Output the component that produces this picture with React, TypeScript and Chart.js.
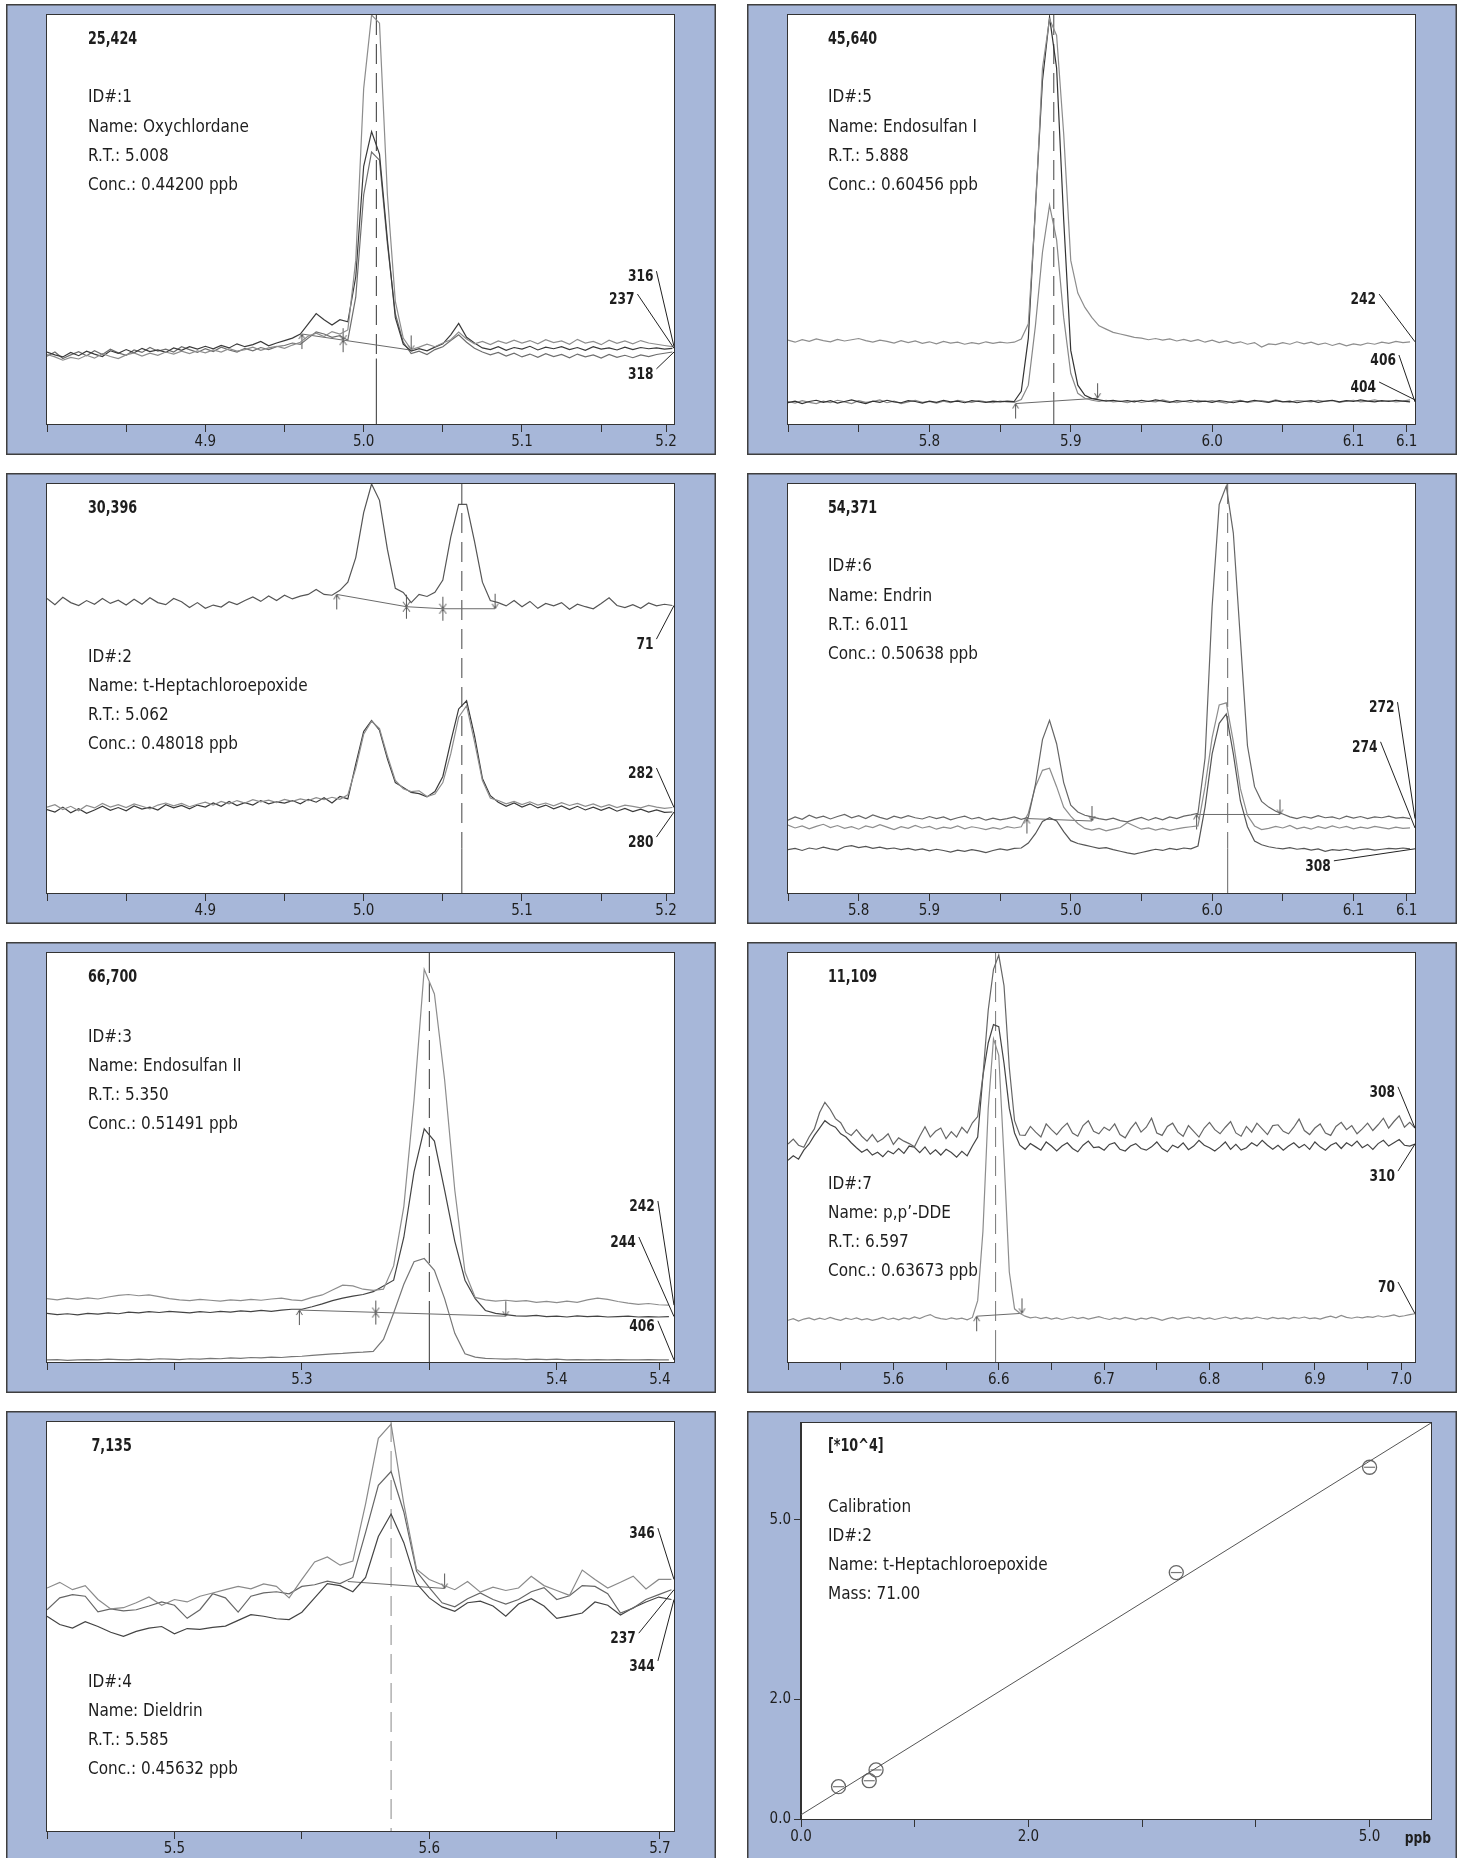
import React, { useEffect, useRef } from "react";
import { Chart, registerables } from "chart.js";

Chart.register(...registerables);

const FAMILY = '"DejaVu Sans Condensed", "Liberation Sans Narrow", "DejaVu Sans", sans-serif';
const FRAME_BLUE = "#a7b7d9";
const INK = "#1e1e1e";
const PANEL_W = 710;
const PANEL_H = 451;

// ---------- ID 1: Oxychlordane (m/z 316, 237, 318) ----------
const oxyRT = 5.008;
const oxyTicks = [4.8, 4.85, 4.9, 4.95, 5.0, 5.05, 5.1, 5.15, 5.191];
const oxyTickLabels = ["", "", "4.9", "", "5.0", "", "5.1", "", "5.2"];
const oxyIon316 = [
  17.0, 16.4, 15.6, 16.3, 15.9, 16.8, 16.1, 17.2, 16.5, 16.0,
  16.9, 17.4, 16.6, 17.3, 16.8, 17.6, 17.1, 17.8, 17.2, 17.9,
  17.4, 18.1, 17.6, 18.4, 17.8, 18.2, 18.8, 18.0, 18.6, 19.0,
  18.5, 19.3, 20.0, 21.5, 22.2, 21.4, 22.6, 22.0, 23.0, 40.0,
  82.0, 100.0, 98.0, 56.0, 30.0, 21.0, 18.2, 18.8, 19.5, 18.9,
  19.8, 20.6, 22.5, 20.8, 19.6, 20.2, 19.4, 20.3, 19.7, 20.5,
  19.8, 20.4, 19.6, 20.6, 19.9, 20.3, 19.5, 20.7, 19.8, 20.2,
  19.4, 20.5, 19.7, 20.3, 19.6, 20.4, 19.8, 19.5, 19.2, 18.9,
];
const oxyIon237 = [
  17.6, 16.9, 16.4, 17.5, 16.7, 17.8, 17.1, 16.5, 17.9, 17.3,
  18.2, 17.4, 18.5, 17.7, 18.1, 17.5, 18.6, 18.0, 18.9, 18.3,
  19.0, 18.4, 19.2, 18.6, 19.6, 18.9, 19.4, 20.2, 19.1, 19.8,
  20.4, 21.0, 22.0, 24.5, 27.0, 25.5, 24.2, 25.5, 25.0, 36.0,
  63.0, 71.5, 66.0, 45.0, 26.0, 19.5, 17.8, 18.4, 17.9, 18.8,
  19.6, 21.8, 24.6, 21.2, 19.8, 18.6, 18.2, 18.9, 18.0, 18.7,
  18.3, 19.0, 18.1, 18.8, 18.4, 18.9, 18.2, 18.7, 18.0, 18.9,
  18.3, 18.6, 18.1, 18.8, 18.2, 18.7, 18.4, 18.6, 18.3, 18.5,
];
const oxyIon318 = [
  16.6, 17.6, 16.0, 16.9, 17.7, 16.7, 17.9, 17.0, 18.3, 17.4,
  16.8, 18.1, 17.5, 18.7, 17.8, 18.3, 17.6, 18.9, 18.2, 17.5,
  18.4, 17.7, 18.8, 18.1, 17.6, 18.5, 17.9, 18.7, 18.2, 18.9,
  19.2, 19.8, 19.5, 21.0, 22.5, 22.0, 21.2, 21.6, 20.5, 31.0,
  56.0, 66.5, 64.5, 44.0, 27.0, 20.0, 17.2, 17.8, 17.0, 18.2,
  18.9, 20.4, 21.8, 20.0, 18.5, 17.6, 16.9, 17.5, 16.6, 17.3,
  16.4, 17.1, 16.3, 17.2, 16.5, 17.0, 16.2, 17.1, 16.4, 16.9,
  16.1, 17.0, 16.3, 16.8, 16.2, 16.9, 16.5, 17.0, 17.3, 17.6,
];
const oxyBaseX = [[4.961, 5.031]];
const oxyBaseY = [[22.0, 18.0]];
const oxyMarkX = [4.961, 4.987, 5.030];
const oxyMarkY = [22.0, 20.5, 18.0];
const oxyMarkKind = ["up", "cross", "down"];
const oxyMasses = ["316", "237", "318"];

// ---------- ID 2: t-Heptachloroepoxide (m/z 71, 282, 280) ----------
const heptRT = 5.062;
const heptTicks = oxyTicks;
const heptTickLabels = oxyTickLabels;
const heptIon71 = [
  72.0, 70.5, 72.3, 71.0, 70.3, 71.5, 70.6, 72.0, 70.8, 71.6,
  70.4, 71.8, 70.6, 72.2, 71.0, 70.5, 72.0, 71.2, 69.8, 71.0,
  69.6, 70.4, 69.9, 71.2, 70.5, 71.5, 72.4, 71.3, 72.6, 71.5,
  72.8, 71.9, 72.6, 73.0, 74.2, 73.0, 72.8, 74.0, 76.0, 82.0,
  93.0, 100.0, 96.0, 84.0, 74.5, 73.5, 71.0, 73.0, 72.5, 73.5,
  76.5, 87.0, 95.0, 95.0, 86.0, 76.0, 71.5, 71.0, 70.2, 71.5,
  70.0, 71.3, 69.6, 70.8, 70.2, 71.0, 69.4, 70.6, 70.0, 69.5,
  70.8, 72.2, 70.3, 69.8, 70.5, 69.6, 70.9, 70.2, 70.6, 70.3,
];
const heptIon282 = [
  21.0, 21.6, 20.4, 21.2, 20.1, 21.4, 20.8, 21.9, 21.0, 21.6,
  20.9, 21.8, 21.2, 20.6, 21.5, 22.0, 21.3, 21.9, 21.1, 21.7,
  22.2, 21.5, 22.4, 21.8, 22.6, 22.0, 22.8, 22.3, 22.7, 22.1,
  22.9, 22.4, 23.0, 22.6, 23.3, 22.8, 23.4, 22.9, 24.0, 30.5,
  38.8, 42.0, 40.2, 33.5, 27.5, 25.5, 24.8, 25.0, 23.6, 24.2,
  27.0, 34.0, 43.0, 45.8, 37.0, 27.5, 23.2, 22.6, 21.8, 22.4,
  21.6, 22.3, 21.5, 22.0, 21.3, 22.1, 21.4, 21.9, 21.2, 21.8,
  21.0, 21.6, 20.9, 21.5, 21.2, 20.8, 21.4, 21.0, 20.7, 20.9,
];
const heptIon280 = [
  20.4, 19.8, 21.0, 19.6, 20.6, 19.5, 20.3, 21.2, 20.2, 20.9,
  20.1, 21.3, 20.5, 21.0, 20.3, 21.6, 20.8, 21.4, 20.6, 21.5,
  21.0, 22.0, 21.2, 22.4, 21.4, 22.1, 21.5, 22.6, 21.8, 22.3,
  22.0, 22.6, 21.8, 22.9, 22.2, 23.3, 22.0, 23.6, 23.0, 31.5,
  39.5, 42.2, 39.8, 32.8, 27.0, 25.8, 24.6, 24.3, 23.5, 24.8,
  28.5, 37.0, 45.0, 47.0, 38.5, 28.0, 23.8, 22.2, 21.2, 22.0,
  21.0, 21.8, 20.8, 21.5, 20.6, 21.3, 20.4, 21.2, 20.3, 21.0,
  20.2, 20.9, 20.0, 20.7, 19.9, 20.5, 19.8, 20.3, 19.7, 19.8,
];
const heptBaseX = [[4.983, 5.027, 5.05, 5.083]];
const heptBaseY = [[73.0, 70.0, 69.5, 69.5]];
const heptMarkX = [4.983, 5.027, 5.05, 5.083];
const heptMarkY = [73.0, 70.0, 69.5, 69.5];
const heptMarkKind = ["up", "cross", "cross", "down"];
const heptMasses = ["71", "282", "280"];

// ---------- ID 3: Endosulfan II (m/z 242, 244, 406) ----------
const endo2RT = 5.35;
const endo2Ticks = [5.2, 5.25, 5.3, 5.35, 5.4, 5.4405];
const endo2TickLabels = ["", "", "5.3", "", "5.4", "5.4"];
const endo2Ion242 = [
  15.5, 15.2, 15.6, 15.3, 15.7, 15.4, 15.9, 16.3, 16.5, 16.2,
  16.4, 16.0, 15.5, 15.2, 15.0, 15.3, 15.1, 14.9, 15.2, 15.0,
  15.3, 15.1, 15.4, 15.6, 15.2, 15.0, 15.8, 16.4, 17.6, 18.8,
  18.6, 17.8, 17.5, 17.8, 23.5, 38.0, 64.0, 96.0, 90.0, 69.0,
  42.0, 22.0, 15.8, 15.2, 14.9, 15.1, 14.8, 15.0, 14.6, 14.8,
  14.5, 14.9, 14.6, 15.2, 15.6, 15.3, 14.8, 14.4, 14.1, 14.3,
  14.0, 13.9,
];
const endo2Ion244 = [
  11.9, 11.6, 11.8, 11.5, 11.9, 11.7, 12.0, 11.8, 12.2, 12.0,
  12.3, 12.1, 12.4, 12.2, 12.0, 12.3, 12.1, 12.4, 12.2, 12.5,
  12.3, 12.6, 12.4, 12.7, 12.9, 12.9, 13.5, 14.2, 15.0, 15.6,
  16.1, 16.5, 17.2, 18.6, 20.0, 30.5, 46.5, 57.0, 54.0, 42.0,
  29.5, 20.0, 15.5, 12.6, 11.9, 11.6, 11.3, 11.2, 11.4, 11.1,
  11.2, 11.0, 11.3, 11.1, 11.2, 11.0, 11.1, 11.2, 11.0, 11.1,
  11.0, 11.1,
];
const endo2Ion406 = [
  0.5, 0.6, 0.4, 0.5, 0.6, 0.5, 0.7, 0.6, 0.5, 0.7,
  0.6, 0.8, 0.7, 0.6, 0.8, 0.7, 0.9, 0.8, 1.0, 0.9,
  1.1, 1.0, 1.2, 1.1, 1.3, 1.4, 1.6, 1.8, 2.0, 2.1,
  2.3, 2.4, 2.6, 5.5, 12.0, 19.0, 24.5, 25.3, 22.4, 15.5,
  7.0, 2.0, 1.2, 0.9, 0.8, 0.7, 0.8, 0.6, 0.7, 0.6,
  0.7, 0.5, 0.6, 0.5, 0.6, 0.5, 0.6, 0.5, 0.5, 0.6,
  0.5, 0.5,
];
const endo2BaseX = [[5.299, 5.38]];
const endo2BaseY = [[12.7, 11.2]];
const endo2MarkX = [5.299, 5.329, 5.38];
const endo2MarkY = [12.7, 12.1, 11.2];
const endo2MarkKind = ["up", "cross", "down"];
const endo2Masses = ["242", "244", "406"];

// ---------- ID 4: Dieldrin (m/z 346, 237, 344) ----------
const dielRT = 5.585;
const dielTicks = [5.45, 5.5, 5.55, 5.6, 5.65, 5.6905];
const dielTickLabels = ["", "5.5", "", "5.6", "", "5.7"];
const dielIon346 = [
  59.4, 60.8, 59.0, 60.0, 56.6, 54.3, 54.6, 55.8, 57.2, 55.2,
  56.6, 56.0, 57.4, 58.2, 59.0, 59.8, 59.2, 60.4, 59.8, 57.0,
  61.5, 65.8, 67.0, 65.0, 66.0, 80.0, 96.0, 99.5, 80.0, 64.0,
  61.5, 60.2, 59.0, 61.0, 58.4, 59.6, 58.8, 59.4, 62.3, 60.0,
  58.8, 57.6, 63.8, 61.5, 59.4, 60.8, 62.3, 59.2, 61.5, 61.5,
];
const dielIon237 = [
  54.1, 57.0, 57.8, 57.4, 53.6, 54.3, 53.8, 54.1, 55.0, 56.0,
  55.2, 52.0, 54.1, 58.0, 57.0, 53.5, 57.4, 58.2, 58.5, 58.0,
  59.8, 60.2, 61.1, 60.5, 62.0, 73.0, 84.5, 87.9, 78.0, 63.5,
  59.5, 55.8, 54.8, 56.8, 58.2, 56.6, 55.5, 56.6, 58.5, 59.5,
  56.6, 57.5, 60.0, 59.8, 58.0, 53.3, 54.5, 56.6, 57.8, 59.0,
];
const dielIon344 = [
  52.5, 50.5, 49.6, 51.2, 50.0, 48.6, 47.6, 48.8, 49.6, 50.0,
  48.2, 49.5, 49.3, 49.8, 50.1, 51.5, 52.9, 52.5, 51.9, 51.7,
  53.5, 57.0, 60.5, 60.0, 58.5, 62.0, 72.0, 77.5, 70.5, 60.5,
  57.0, 54.8, 53.7, 55.8, 56.2, 55.0, 52.5, 55.5, 56.8, 55.0,
  52.0, 52.6, 53.3, 56.0, 55.2, 52.8, 54.6, 56.0, 57.2, 56.6,
];
const dielBaseX = [[5.568, 5.606]];
const dielBaseY = [[61.0, 59.3]];
const dielMarkX = [5.606];
const dielMarkY = [59.3];
const dielMarkKind = ["down"];
const dielMasses = ["346", "237", "344"];

// ---------- ID 5: Endosulfan I (m/z 242, 406, 404) ----------
const endo1RT = 5.888;
const endo1Ticks = [5.7, 5.75, 5.8, 5.85, 5.9, 5.95, 6.0, 6.05, 6.1, 6.1376];
const endo1TickLabels = ["", "", "5.8", "", "5.9", "", "6.0", "", "6.1", "6.1"];
const endo1Ion242 = [
  20.5, 20.0, 20.6, 20.2, 20.8, 20.4, 20.1, 20.7, 20.3, 20.6,
  20.9, 20.4, 20.0, 20.5, 20.2, 19.8, 20.4, 19.9, 20.3, 19.7,
  20.1, 19.6, 20.2, 19.8, 20.0, 19.5, 19.9, 19.6, 20.1, 19.7,
  20.0, 19.8,
  20.0, 20.8, 24.5, 52.0, 87.0, 99.0, 95.0, 71.0, 40.0, 32.0,
  28.5, 26.0, 24.0, 23.2, 22.4, 22.0, 21.6, 21.2, 21.0,
  20.6, 20.9, 20.5, 20.8, 20.3, 20.7, 20.2, 20.6, 20.0, 20.5,
  19.9, 20.3, 19.7, 20.1, 19.5, 19.9, 18.8, 19.6, 19.4, 19.9,
  19.5, 20.1, 19.6, 20.0, 19.4, 19.8, 19.2, 19.7, 19.1, 19.6,
  19.3, 19.8, 19.5, 20.0, 19.7, 20.2, 19.9, 20.1,
];
const endo1Ion406 = [
  5.2, 5.6, 5.0, 5.5, 5.8, 5.3, 5.7, 5.1, 5.5, 5.9,
  5.4, 5.0, 5.6, 5.3, 5.8, 5.4, 5.2, 5.7, 5.5, 5.1,
  5.6, 5.3, 5.8, 5.4, 5.6, 5.2, 5.7, 5.5, 5.3, 5.6,
  5.4, 5.6,
  5.5, 8.0, 21.0, 53.0, 84.0, 99.5, 87.0, 50.0, 18.0, 9.5,
  7.0, 6.2,
  5.9, 5.6, 5.8, 5.5, 5.7, 5.4, 5.8, 5.5, 5.9, 5.6,
  5.3, 5.7, 5.5, 5.8, 5.4, 5.6, 5.3, 5.7, 5.5, 5.2,
  5.6, 5.4, 5.8, 5.5, 5.3, 5.7, 5.4, 5.6, 5.2, 5.5,
  5.7, 5.3, 5.6, 5.8, 5.4, 5.7, 5.5, 5.9, 5.6, 5.4,
  5.7, 5.5, 5.8, 5.6, 5.4,
];
const endo1Ion404 = [
  5.5, 5.1, 5.7, 5.3, 5.0, 5.6, 5.2, 5.8, 5.4, 5.0,
  5.7, 5.3, 5.5, 5.9, 5.2, 5.6, 5.0, 5.4, 5.8, 5.3,
  5.5, 5.1, 5.6, 5.2, 5.8, 5.5, 5.3, 5.7, 5.4, 5.2,
  5.6, 5.4,
  5.3, 6.0, 9.5, 24.0, 42.0, 53.5, 45.0, 26.0, 12.4, 7.5,
  6.3, 5.8,
  5.5, 5.8, 5.4, 5.6, 5.2, 5.7, 5.3, 5.6, 5.4, 5.9,
  5.5, 5.2, 5.6, 5.3, 5.8, 5.5, 5.7, 5.4, 5.1, 5.6,
  5.8, 5.3, 5.5, 5.7, 5.4, 5.9, 5.5, 5.3, 5.7, 5.6,
  5.4, 5.8, 5.5, 5.7, 5.3, 5.6, 5.8, 5.4, 5.6, 5.9,
  5.5, 5.7, 5.4, 5.6, 5.9,
];
const endo1BaseX = [[5.861, 5.919]];
const endo1BaseY = [[5.0, 6.3]];
const endo1MarkX = [5.861, 5.919];
const endo1MarkY = [5.0, 6.3];
const endo1MarkKind = ["up", "down"];
const endo1Masses = ["242", "406", "404"];

// ---------- ID 6: Endrin (m/z 272, 274, 308) ----------
const endrinRT = 6.011;
const endrinTicks = endo1Ticks;
const endrinTickLabels = ["", "5.8", "5.9", "", "5.0", "", "6.0", "", "6.1", "6.1"];
const endrinIon272 = [
  17.8, 18.6, 18.0, 19.0, 18.3, 18.8, 18.1, 18.7, 19.2, 18.4,
  18.9, 18.2, 19.1, 18.5, 18.0, 18.8, 18.3, 18.9, 18.4, 18.1,
  18.7, 18.2, 18.6, 17.9, 18.4, 18.8, 18.1, 18.5, 17.8, 18.3,
  17.9, 18.2, 18.6, 18.0,
  18.5, 26.5, 37.5, 42.2, 36.5, 27.0, 21.5, 19.8, 19.0,
  18.6, 18.2, 17.9, 18.3, 17.7, 17.4, 18.0, 18.5, 17.8, 18.4,
  17.9, 18.6, 18.2, 18.8, 19.1,
  19.5, 33.0, 70.0, 95.0, 99.5, 88.0, 62.0, 36.0, 26.0, 22.4,
  21.0, 20.0, 19.3, 18.6,
  18.2, 18.7, 18.3, 18.9, 18.4, 18.6, 18.1, 18.8, 18.3, 18.7,
  18.2, 18.6, 18.4, 18.8, 18.3, 18.5, 18.2,
];
const endrinIon274 = [
  16.6, 15.9, 16.4, 15.7, 16.3, 16.8, 16.0, 16.5, 15.8, 16.2,
  15.6, 16.4, 16.0, 16.7, 16.1, 15.5, 16.2, 15.8, 16.5, 15.9,
  16.3, 15.6, 16.1, 15.8, 16.4, 15.7, 16.2, 15.9, 15.5, 16.0,
  15.6, 16.2, 15.9,
  16.2, 19.5, 26.0, 30.0, 30.5, 26.0, 21.0, 18.8, 17.0, 15.8,
  15.4, 15.8, 15.2, 15.6, 16.0, 17.2, 16.4, 15.6, 15.9, 15.4,
  15.8, 15.3, 15.7, 16.0, 16.2,
  16.4, 26.0, 38.0, 46.0, 46.5, 37.0, 25.5, 19.0, 16.4, 15.5,
  15.8, 16.3, 15.9, 16.5, 15.7, 16.1, 15.6, 16.2, 15.8, 16.4,
  15.9, 16.3, 15.7, 16.1, 15.8, 16.3, 16.0, 15.7, 16.1, 15.8,
  15.9,
];
const endrinIon308 = [
  10.6, 10.9, 10.4, 11.0, 10.7, 11.2, 10.8, 10.5, 11.3, 11.6,
  11.1, 11.4, 10.9, 11.2, 10.8, 11.0, 10.6, 10.9, 10.5, 10.8,
  10.3, 10.7, 10.4, 10.0, 10.5, 10.2, 10.6, 10.3, 9.9, 10.4,
  10.8, 10.5, 10.9,
  11.0, 12.2, 14.5, 17.5, 18.4, 17.6, 15.0, 12.8, 12.1, 11.7,
  11.3, 10.9, 11.1, 10.6, 10.2, 9.8, 9.5, 9.9, 10.3, 10.7,
  10.4, 10.9, 10.6, 11.0, 10.8,
  11.5, 21.0, 34.0, 41.5, 43.8, 34.0, 22.5, 16.2, 12.7, 11.8,
  11.3, 11.0, 10.8, 11.1, 10.7, 10.9, 10.5, 10.8, 10.2, 10.6,
  10.4, 10.7, 10.3, 10.6, 10.8, 10.5, 10.7, 10.9, 10.8, 11.0,
  10.8,
];
const endrinBaseX = [[5.869, 5.915], [5.989, 6.048]];
const endrinBaseY = [[18.2, 17.6], [19.2, 19.2]];
const endrinMarkX = [5.869, 5.915, 5.989, 6.048];
const endrinMarkY = [18.2, 17.6, 19.2, 19.2];
const endrinMarkKind = ["up", "down", "up", "down"];
const endrinMasses = ["272", "274", "308"];

// ---------- ID 7: p,p'-DDE (m/z 308, 310, 70) ----------
const ddeRT = 6.597;
const ddeTicks = [6.4, 6.45, 6.5, 6.55, 6.6, 6.65, 6.7, 6.75, 6.8, 6.85, 6.9, 6.95, 6.982];
const ddeTickLabels = ["", "", "5.6", "", "6.6", "", "6.7", "", "6.8", "", "6.9", "", "7.0"];
const ddeIon308 = [
  53.3, 54.5, 53.0, 52.5, 55.0, 57.0, 61.0, 63.5, 61.8, 59.5,
  58.5, 56.2, 55.4, 56.8, 55.2, 54.0, 55.6, 53.8, 54.6, 55.8,
  53.2, 54.8, 54.0, 53.4, 52.6, 55.2, 57.5, 55.0, 56.4, 57.2,
  54.6, 56.3, 55.0, 57.4, 56.0, 58.5,
  60.0, 70.0, 86.0, 96.0, 99.5, 92.0, 72.0, 59.0, 55.5,
  55.4, 57.6, 56.2, 55.0, 58.2, 56.8, 55.6, 57.2, 58.4, 56.0,
  55.2, 57.8, 59.0, 56.4, 55.8, 57.4, 56.6, 58.2, 55.6, 54.8,
  57.0, 58.6, 56.2, 57.4, 59.6, 56.0, 55.4, 57.6, 58.4, 56.2,
  55.2, 57.8, 56.4, 55.0, 57.2, 58.6, 56.8, 55.8, 57.4, 58.8,
  56.0, 55.2, 57.6, 56.2, 58.4, 57.0, 55.6, 57.8, 58.0, 56.4,
  55.8, 57.4, 59.4, 56.6, 55.6, 57.2, 58.2, 56.0, 55.4, 57.6,
  58.6, 56.8, 57.8, 55.8, 57.0, 58.4, 56.6, 58.0, 59.6, 57.2,
  58.8, 60.2, 57.4, 58.6, 57.2,
];
const ddeIon310 = [
  49.3, 50.4, 49.6, 51.8, 53.3, 55.4, 57.2, 59.0, 58.0, 57.4,
  55.8, 55.0, 53.6, 52.4, 51.3, 52.0, 50.6, 51.3, 50.2, 51.6,
  50.9, 52.2, 51.0, 52.8, 52.5, 51.2, 52.6, 50.8, 51.9, 50.6,
  52.0, 51.2, 50.1, 51.5, 50.4, 52.8,
  55.0, 70.0, 78.0, 82.5, 82.0, 73.0, 62.0, 56.0, 53.0,
  52.0, 53.4, 52.6, 51.8, 53.8, 52.8, 51.6, 52.8, 53.6, 52.2,
  51.4, 53.0, 54.0, 52.4, 52.6, 51.8, 53.2, 53.6, 52.0, 51.6,
  52.8, 53.4, 52.2, 51.8, 52.6, 53.8, 52.2, 51.4, 53.0, 52.4,
  53.6, 51.9, 52.8, 54.2, 53.0, 52.4, 51.6, 52.6, 53.8, 52.0,
  53.2, 51.8, 52.4, 53.6, 52.8, 54.2, 53.0, 52.0, 53.0, 51.8,
  52.8, 53.6, 52.4, 53.2, 52.0, 53.8, 52.6, 51.8, 53.0, 53.6,
  52.2, 53.6, 52.8, 54.0, 52.4, 53.2, 52.0, 53.4, 54.2, 52.8,
  53.6, 54.4, 53.0, 52.8, 53.3,
];
const ddeIon70 = [
  10.2, 10.6, 10.0, 10.5, 10.8, 10.3, 10.7, 10.4, 10.9, 10.5,
  10.2, 10.7, 10.4, 10.8, 10.3, 10.6, 10.2, 10.5, 10.9, 10.4,
  10.7, 10.3, 10.8, 10.5, 11.0, 10.6, 11.2, 11.6, 10.9, 10.6,
  10.4, 10.8, 10.5, 10.7, 10.3, 10.9,
  15.0, 32.0, 62.0, 79.0, 75.0, 50.0, 22.0, 13.0, 11.9,
  11.2, 10.8, 11.0, 10.6, 10.9, 10.5, 10.8, 10.4, 10.7, 11.0,
  10.6, 10.9, 10.5, 10.8, 11.1, 10.7, 10.4, 10.8, 10.5, 10.9,
  10.6, 10.3, 10.7, 10.5, 10.9, 10.6, 10.2, 10.6, 10.9, 10.5,
  10.8, 11.0, 10.6, 10.9, 10.5, 10.8, 10.4, 10.7, 11.0, 10.6,
  10.9, 10.5, 10.8, 10.6, 11.0, 10.7, 10.5, 10.9, 10.6, 10.8,
  10.5, 10.9, 10.7, 11.0, 10.6, 10.8, 10.5, 10.9, 11.2, 10.8,
  11.4, 10.9, 10.7, 11.0, 10.8, 11.1, 10.9, 11.3, 11.0, 11.2,
  11.5, 11.1, 11.3, 11.6, 11.8,
];
const ddeBaseX = [[6.579, 6.622]];
const ddeBaseY = [[11.2, 11.9]];
const ddeMarkX = [6.579, 6.622];
const ddeMarkY = [11.2, 11.9];
const ddeMarkKind = ["up", "down"];
const ddeMasses = ["308", "310", "70"];

// ---------- Calibration, ID 2, mass 71 ----------
const calConc = [0.33, 0.6, 0.66, 3.3, 5.0];
const calResponse = [0.54, 0.64, 0.82, 4.12, 5.88];
const calFitConc = [0, 5.54];
const calFitResponse = [0.07, 6.62];
const calXTicks = [0, 1, 2, 3, 4, 5];
const calXTickLabels = ["0.0", "", "2.0", "", "", "5.0"];
const calYTicks = [0, 2, 5];
const calYTickLabels = ["0.0", "2.0", "5.0"];

type Callout = { text: string; x: number; y: number; trace: number };
type ChromPanel = {
  left: number; top: number;
  xMin: number; xMax: number; t0: number; dt: number;
  ticks: number[]; tickLabels: string[];
  traces: number[][]; colors: string[];
  baseX: number[][]; baseY: number[][];
  markX: number[]; markY: number[]; markKind: string[];
  rt: number; rtSolidTop: number; rtColor: string;
  header: string; lines: string[];
  headerDx: number; textDx: number; lineDy: number;
  callouts: Callout[];
};

const info = (id: number, name: string, rt: number, conc: string) => [
  `ID#:${id}`, `Name: ${name}`, `R.T.: ${rt.toFixed(3)}`, `Conc.: ${conc} ppb`,
];

const COL_L = 6;
const COL_R = 747;
const ROWS = [4, 473, 942, 1411];

const chromPanels: ChromPanel[] = [
  {
    left: COL_L, top: ROWS[0], xMin: 4.8, xMax: 5.196, t0: 4.8, dt: 0.005,
    ticks: oxyTicks, tickLabels: oxyTickLabels,
    traces: [oxyIon316, oxyIon237, oxyIon318], colors: ["#8d8d8d", "#3a3a3a", "#6e6e6e"],
    baseX: oxyBaseX, baseY: oxyBaseY, markX: oxyMarkX, markY: oxyMarkY, markKind: oxyMarkKind,
    rt: oxyRT, rtSolidTop: 16, rtColor: "#333",
    header: "25,424", lines: info(1, "Oxychlordane", oxyRT, "0.44200"),
    headerDx: 41, textDx: 41, lineDy: 82.7,
    callouts: [
      { text: oxyMasses[0], x: 5.183, y: 35.9, trace: 0 },
      { text: oxyMasses[1], x: 5.171, y: 30.3, trace: 1 },
      { text: oxyMasses[2], x: 5.183, y: 12.0, trace: 2 },
    ],
  },
  {
    left: COL_L, top: ROWS[1], xMin: 4.8, xMax: 5.196, t0: 4.8, dt: 0.005,
    ticks: heptTicks, tickLabels: heptTickLabels,
    traces: [heptIon71, heptIon282, heptIon280], colors: ["#555", "#8d8d8d", "#3a3a3a"],
    baseX: heptBaseX, baseY: heptBaseY, markX: heptMarkX, markY: heptMarkY, markKind: heptMarkKind,
    rt: heptRT, rtSolidTop: 10.9, rtColor: "#444",
    header: "30,396", lines: info(2, "t-Heptachloroepoxide", heptRT, "0.48018"),
    headerDx: 41, textDx: 41, lineDy: 173,
    callouts: [
      { text: heptMasses[0], x: 5.183, y: 60.6, trace: 0 },
      { text: heptMasses[1], x: 5.183, y: 29.1, trace: 1 },
      { text: heptMasses[2], x: 5.183, y: 12.2, trace: 2 },
    ],
  },
  {
    left: COL_L, top: ROWS[2], xMin: 5.2, xMax: 5.446, t0: 5.2, dt: 0.004,
    ticks: endo2Ticks, tickLabels: endo2TickLabels,
    traces: [endo2Ion242, endo2Ion244, endo2Ion406], colors: ["#8d8d8d", "#444", "#777"],
    baseX: endo2BaseX, baseY: endo2BaseY, markX: endo2MarkX, markY: endo2MarkY, markKind: endo2MarkKind,
    rt: endo2RT, rtSolidTop: 11.9, rtColor: "#333",
    header: "66,700", lines: info(3, "Endosulfan II", endo2RT, "0.51491"),
    headerDx: 41, textDx: 41, lineDy: 84,
    callouts: [
      { text: endo2Masses[0], x: 5.4385, y: 37.9, trace: 0 },
      { text: endo2Masses[1], x: 5.431, y: 29.1, trace: 1 },
      { text: endo2Masses[2], x: 5.4385, y: 8.6, trace: 2 },
    ],
  },
  {
    left: COL_L, top: ROWS[3], xMin: 5.45, xMax: 5.696, t0: 5.45, dt: 0.005,
    ticks: dielTicks, tickLabels: dielTickLabels,
    traces: [dielIon346, dielIon237, dielIon344], colors: ["#8a8a8a", "#666", "#444"],
    baseX: dielBaseX, baseY: dielBaseY, markX: dielMarkX, markY: dielMarkY, markKind: dielMarkKind,
    rt: dielRT, rtSolidTop: 0, rtColor: "#888",
    header: "7,135", lines: info(4, "Dieldrin", dielRT, "0.45632"),
    headerDx: 44.5, textDx: 41, lineDy: 260,
    callouts: [
      { text: dielMasses[0], x: 5.6885, y: 72.6, trace: 0 },
      { text: dielMasses[1], x: 5.681, y: 46.9, trace: 1 },
      { text: dielMasses[2], x: 5.6885, y: 40.1, trace: 2 },
    ],
  },
  {
    left: COL_R, top: ROWS[0], xMin: 5.7, xMax: 6.1435, t0: 5.7, dt: 0.005,
    ticks: endo1Ticks, tickLabels: endo1TickLabels,
    traces: [endo1Ion242, endo1Ion406, endo1Ion404], colors: ["#8d8d8d", "#333", "#888"],
    baseX: endo1BaseX, baseY: endo1BaseY, markX: endo1MarkX, markY: endo1MarkY, markKind: endo1MarkKind,
    rt: endo1RT, rtSolidTop: 5.9, rtColor: "#444",
    header: "45,640", lines: info(5, "Endosulfan I", endo1RT, "0.60456"),
    headerDx: 40, textDx: 40, lineDy: 82.7,
    callouts: [
      { text: endo1Masses[0], x: 6.116, y: 30.3, trace: 0 },
      { text: endo1Masses[1], x: 6.13, y: 15.4, trace: 1 },
      { text: endo1Masses[2], x: 6.116, y: 8.8, trace: 2 },
    ],
  },
  {
    left: COL_R, top: ROWS[1], xMin: 5.7, xMax: 6.1435, t0: 5.7, dt: 0.005,
    ticks: endrinTicks, tickLabels: endrinTickLabels,
    traces: [endrinIon272, endrinIon274, endrinIon308], colors: ["#666", "#8d8d8d", "#555"],
    baseX: endrinBaseX, baseY: endrinBaseY, markX: endrinMarkX, markY: endrinMarkY, markKind: endrinMarkKind,
    rt: endrinRT, rtSolidTop: 10.9, rtColor: "#666",
    header: "54,371", lines: info(6, "Endrin", endrinRT, "0.50638"),
    headerDx: 40, textDx: 40, lineDy: 82.7,
    callouts: [
      { text: endrinMasses[0], x: 6.129, y: 45.2, trace: 0 },
      { text: endrinMasses[1], x: 6.117, y: 35.5, trace: 1 },
      { text: endrinMasses[2], x: 6.084, y: 6.4, trace: 2 },
    ],
  },
  {
    left: COL_R, top: ROWS[2], xMin: 6.4, xMax: 6.995, t0: 6.4, dt: 0.005,
    ticks: ddeTicks, tickLabels: ddeTickLabels,
    traces: [ddeIon308, ddeIon310, ddeIon70], colors: ["#666", "#444", "#8d8d8d"],
    baseX: ddeBaseX, baseY: ddeBaseY, markX: ddeMarkX, markY: ddeMarkY, markKind: ddeMarkKind,
    rt: ddeRT, rtSolidTop: 7.8, rtColor: "#777",
    header: "11,109", lines: info(7, "p,p\u2019-DDE", ddeRT, "0.63673"),
    headerDx: 40, textDx: 40, lineDy: 231,
    callouts: [
      { text: ddeMasses[0], x: 6.976, y: 65.8, trace: 0 },
      { text: ddeMasses[1], x: 6.976, y: 45.2, trace: 1 },
      { text: ddeMasses[2], x: 6.976, y: 18.1, trace: 2 },
    ],
  },
];

const LINE_GAP = 29.3;

// Condensed lettering: a sans face drawn with a slight horizontal squeeze
const TEXT_INFO = { size: 17.5, bold: false, sx: 0.97 };
const TEXT_HEAD = { size: 17.5, bold: true, sx: 0.81 };
const TEXT_MASS = { size: 16, bold: true, sx: 0.85 };

function drawText(
  ctx: CanvasRenderingContext2D, text: string, x: number, y: number,
  style: { size: number; bold: boolean; sx: number }, align: CanvasTextAlign = "left",
) {
  ctx.save();
  ctx.font = `${style.bold ? "bold " : ""}${style.size}px ${FAMILY}`;
  ctx.textAlign = align;
  ctx.textBaseline = "middle";
  ctx.fillStyle = INK;
  ctx.translate(x, y);
  ctx.scale(style.sx, 1);
  ctx.fillText(text, 0, 0);
  ctx.restore();
}

// Small sprites for integration start/end/split marks
function markSprite(kind: string): HTMLCanvasElement {
  const c = document.createElement("canvas");
  c.width = 9;
  c.height = 34;
  const g = c.getContext("2d")!;
  g.strokeStyle = "#555";
  g.lineWidth = 1;
  const cx = 4.5, cy = 17;
  g.beginPath();
  if (kind === "up") {
    g.moveTo(cx, cy); g.lineTo(cx, cy + 15);
    g.moveTo(cx - 3, cy + 5); g.lineTo(cx, cy); g.lineTo(cx + 3, cy + 5);
  } else if (kind === "down") {
    g.moveTo(cx, cy); g.lineTo(cx, cy - 15);
    g.moveTo(cx - 3, cy - 5); g.lineTo(cx, cy); g.lineTo(cx + 3, cy - 5);
  } else {
    g.moveTo(cx, cy - 12); g.lineTo(cx, cy + 12);
    g.moveTo(cx - 3.5, cy - 5); g.lineTo(cx + 3.5, cy + 5);
    g.moveTo(cx + 3.5, cy - 5); g.lineTo(cx - 3.5, cy + 5);
  }
  g.stroke();
  return c;
}

const framePlugin = {
  id: "panelFrame",
  beforeDraw(chart: any) {
    const { ctx, width, height, chartArea: a } = chart;
    ctx.save();
    ctx.fillStyle = FRAME_BLUE;
    ctx.fillRect(0, 0, width, height);
    ctx.strokeStyle = "#3f3f3f";
    ctx.lineWidth = 1.5;
    ctx.strokeRect(0.75, 0.75, width - 1.5, height - 1.5);
    ctx.fillStyle = "#ffffff";
    ctx.fillRect(a.left, a.top, a.right - a.left, a.bottom - a.top);
    ctx.restore();
  },
  afterDraw(chart: any) {
    const { ctx, chartArea: a } = chart;
    ctx.save();
    ctx.strokeStyle = "#333";
    ctx.lineWidth = 1;
    ctx.strokeRect(Math.round(a.left) - 0.5, Math.round(a.top) - 0.5, Math.round(a.right - a.left) + 1, Math.round(a.bottom - a.top) + 1);
    ctx.restore();
  },
};

function chromTextPlugin(p: ChromPanel) {
  return {
    id: "chromText",
    afterDraw(chart: any) {
      const { ctx, chartArea: a, scales } = chart;
      const xs = scales.x, ys = scales.y;
      drawText(ctx, p.header, a.left + p.headerDx, a.top + 24.7, TEXT_HEAD);
      p.lines.forEach((s, i) => drawText(ctx, s, a.left + p.textDx, a.top + p.lineDy + i * LINE_GAP, TEXT_INFO));
      ctx.save();
      ctx.strokeStyle = "#222";
      ctx.lineWidth = 1;
      p.callouts.forEach((c) => {
        const px = xs.getPixelForValue(c.x);
        const py = ys.getPixelForValue(c.y);
        drawText(ctx, c.text, px, py, TEXT_MASS, "right");
        const tr = p.traces[c.trace];
        const ey = ys.getPixelForValue(tr[tr.length - 1]);
        ctx.beginPath();
        ctx.moveTo(px + 3, py - 6);
        ctx.lineTo(a.right, ey);
        ctx.stroke();
      });
      ctx.restore();
    },
  };
}

function chromConfig(p: ChromPanel): any {
  const sprites: Record<string, HTMLCanvasElement> = {
    up: markSprite("up"), down: markSprite("down"), cross: markSprite("cross"),
  };
  const datasets: any[] = p.traces.map((vals, k) => ({
    data: vals.map((v, i) => ({ x: p.t0 + i * p.dt, y: v })),
    borderColor: p.colors[k], borderWidth: 1.2, pointRadius: 0, tension: 0, fill: false,
  }));
  p.baseX.forEach((xsArr, s) => {
    datasets.push({
      data: xsArr.map((x, i) => ({ x, y: p.baseY[s][i] })),
      borderColor: "#6b6b6b", borderWidth: 1, pointRadius: 0, fill: false,
    });
  });
  datasets.push({
    data: p.markX.map((x, i) => ({ x, y: p.markY[i] })),
    showLine: false, pointRadius: 4, borderWidth: 0,
    pointStyle: p.markKind.map((k) => sprites[k]),
  });
  if (p.rtSolidTop > 0) {
    datasets.push({
      data: [{ x: p.rt, y: 0 }, { x: p.rt, y: p.rtSolidTop }],
      borderColor: p.rtColor, borderWidth: 1, pointRadius: 0, fill: false,
    });
  }
  datasets.push({
    data: [{ x: p.rt, y: 100 }, { x: p.rt, y: p.rtSolidTop }],
    borderColor: p.rtColor, borderWidth: 1, borderDash: [20, 9], pointRadius: 0, fill: false,
  });

  return {
    type: "line",
    data: { datasets },
    options: {
      responsive: false,
      animation: false,
      events: [],
      devicePixelRatio: 1,
      layout: { padding: { left: 41, top: 11, right: 42, bottom: 0 } },
      plugins: { legend: { display: false }, tooltip: { enabled: false } },
      scales: {
        x: {
          type: "linear", min: p.xMin, max: p.xMax,
          afterBuildTicks: (axis: any) => { axis.ticks = p.ticks.map((value) => ({ value })); },
          afterFit: (axis: any) => { axis.height = 31; },
          grid: { drawOnChartArea: false, drawTicks: true, tickLength: 8, color: "#333", tickColor: "#333", lineWidth: 1 },
          border: { display: true, color: "#333", width: 1 },
          ticks: {
            autoSkip: false, maxRotation: 0, minRotation: 0, padding: 1, color: INK,
            font: { family: FAMILY, size: 15 },
            callback: (_v: any, i: number) => p.tickLabels[i] ?? "",
          },
        },
        y: { display: false, min: 0, max: 100 },
      },
    },
    plugins: [framePlugin, chromTextPlugin(p)],
  };
}

const calTextPlugin = {
  id: "calText",
  afterDraw(chart: any) {
    const { ctx, chartArea: a } = chart;
    drawText(ctx, "[*10^4]", a.left + 27, a.top + 23, TEXT_HEAD);
    ["Calibration", "ID#:2", "Name: t-Heptachloroepoxide", "Mass: 71.00"].forEach((s, i) =>
      drawText(ctx, s, a.left + 27, a.top + 84 + i * LINE_GAP, TEXT_INFO));
    drawText(ctx, "ppb", a.right, a.bottom + 20, TEXT_MASS, "right");
  },
};

function calibrationConfig(): any {
  const pts = calConc.map((x, i) => ({ x, y: calResponse[i] }));
  return {
    type: "line",
    data: {
      datasets: [
        {
          data: calFitConc.map((x, i) => ({ x, y: calFitResponse[i] })),
          borderColor: "#555", borderWidth: 1, pointRadius: 0, fill: false,
        },
        {
          data: pts, showLine: false, pointStyle: "circle", pointRadius: 7,
          borderColor: "#666", borderWidth: 1.3, backgroundColor: "rgba(255,255,255,0)",
        },
        {
          data: pts, showLine: false, pointStyle: "line", pointRadius: 5.5,
          borderColor: "#777", borderWidth: 1.2,
        },
      ],
    },
    options: {
      responsive: false,
      animation: false,
      events: [],
      devicePixelRatio: 1,
      layout: { padding: { left: 0, top: 11, right: 26, bottom: 0 } },
      plugins: { legend: { display: false }, tooltip: { enabled: false } },
      scales: {
        x: {
          type: "linear", min: 0, max: 5.54,
          afterBuildTicks: (axis: any) => { axis.ticks = calXTicks.map((value) => ({ value })); },
          afterFit: (axis: any) => { axis.height = 43; },
          grid: { drawOnChartArea: false, drawTicks: true, tickLength: 8, color: "#333", tickColor: "#333" },
          border: { display: true, color: "#333", width: 1 },
          ticks: {
            autoSkip: false, maxRotation: 0, padding: 1, color: INK,
            font: { family: FAMILY, size: 15 },
            callback: (_v: any, i: number) => calXTickLabels[i] ?? "",
          },
        },
        y: {
          type: "linear", min: 0, max: 6.62,
          afterBuildTicks: (axis: any) => { axis.ticks = calYTicks.map((value) => ({ value })); },
          afterFit: (axis: any) => { axis.width = 54; },
          grid: { drawOnChartArea: false, drawTicks: true, tickLength: 7, color: "#333", tickColor: "#333" },
          border: { display: true, color: "#333", width: 1 },
          ticks: {
            autoSkip: false, padding: 3, color: INK,
            font: { family: FAMILY, size: 15 },
            callback: (_v: any, i: number) => calYTickLabels[i] ?? "",
          },
        },
      },
    },
    plugins: [framePlugin, calTextPlugin],
  };
}

function PanelCanvas({ left, top, build }: { left: number; top: number; build: () => any }) {
  const ref = useRef<HTMLCanvasElement>(null);
  useEffect(() => {
    const chart = new Chart(ref.current as HTMLCanvasElement, build());
    return () => chart.destroy();
  }, []);
  return (
    <div style={{ position: "absolute", left, top, width: PANEL_W, height: PANEL_H }}>
      <canvas ref={ref} width={PANEL_W} height={PANEL_H} style={{ display: "block", width: PANEL_W, height: PANEL_H }} />
    </div>
  );
}

export default function App() {
  return (
    <div
      style={{
        position: "absolute", left: 0, top: 0, width: 1461, height: 1858,
        overflow: "hidden", background: "#ffffff",
      }}
    >
      {chromPanels.map((p, i) => (
        <PanelCanvas key={i} left={p.left} top={p.top} build={() => chromConfig(p)} />
      ))}
      <PanelCanvas left={COL_R} top={ROWS[3]} build={calibrationConfig} />
    </div>
  );
}
